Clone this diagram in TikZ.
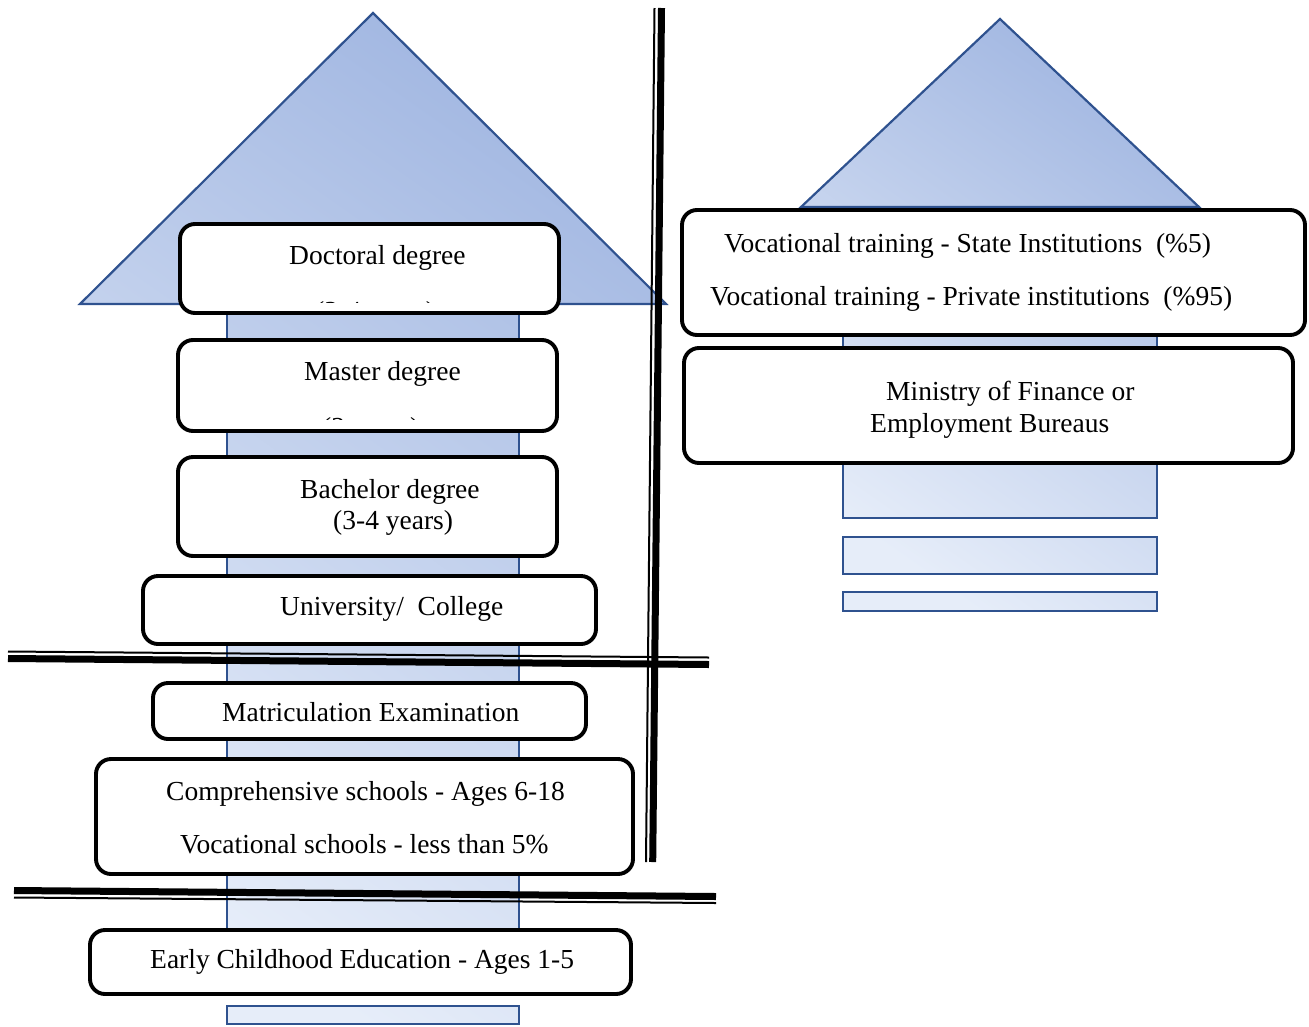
\documentclass[tikz,border=0pt]{standalone}
\usepackage{fontspec}
\setmainfont{Liberation Serif}
\definecolor{arrowdark}{HTML}{A3B8E2}
\definecolor{arrowlight}{HTML}{E6EDF9}
\definecolor{arrowblue}{HTML}{2F528F}
\tikzset{
  arrowfill/.style={top color=arrowdark, bottom color=arrowlight, shading angle=-35},
  arrowline/.style={draw=arrowblue, line width=2.2pt, line join=miter},
  stage/.style={draw=black, line width=3.9pt, rounded corners=15pt, fill=white,
                inner sep=0pt, outer sep=0pt},
  lbl/.style={anchor=base west, inner sep=0pt, font=\fontsize{27.5}{32}\selectfont},
  rulethin/.style={draw=black, line width=2pt},
  rulethick/.style={draw=black, line width=7pt}
}
\begin{document}
\begin{tikzpicture}[x=1pt, y=-1pt]
\useasboundingbox (0,0) rectangle (1309,1026);

% ---- left arrow: university path ----
\path[arrowfill]
  (80,304) -- (373,13) -- (666,304) -- cycle
  (227,304) rectangle (519,990)
  (227,1006) rectangle (519,1024);
\draw[arrowline] (80,304) -- (373,13) -- (666,304) -- cycle;
\draw[arrowline] (227,304) rectangle (519,990);
\draw[arrowline] (227,1006) rectangle (519,1024);

% ---- right arrow: vocational path ----
\path[arrowfill]
  (801,207) -- (1000,19) -- (1199,207) -- cycle
  (843,207) rectangle (1157,518)
  (843,537) rectangle (1157,574)
  (843,592) rectangle (1157,611);
\draw[arrowline] (801,207) -- (1000,19) -- (1199,207) -- cycle;
\draw[arrowline] (843,207) rectangle (1157,518);
\draw[arrowline] (843,537) rectangle (1157,574);
\draw[arrowline] (843,592) rectangle (1157,611);

% ---- separating double rules ----
\draw[rulethin]  (8,651.5) -- (709,657.5);
\draw[rulethick] (8,658.5) -- (709,664.5);
\draw[rulethick] (14,890.5) -- (716,896.5);
\draw[rulethin]  (14,897.5) -- (716,903);
\draw[rulethin]  (654.5,8) -- (646,862);
\draw[rulethick] (661.5,8) -- (652.7,862);

% ---- stages ----
\node[stage, minimum width=379pt, minimum height=89pt]  (doc) at (369.5,268.5) {};
\node[stage, minimum width=379pt, minimum height=91pt]  (mas) at (367.5,385.5) {};
\node[stage, minimum width=379pt, minimum height=99pt]  (bac) at (367.5,506.5) {};
\node[stage, minimum width=453pt, minimum height=68pt]  (uni) at (369.5,610) {};
\node[stage, minimum width=433pt, minimum height=56pt]  (mat) at (369.5,711) {};
\node[stage, minimum width=537pt, minimum height=115pt] (com) at (364.5,816.5) {};
\node[stage, minimum width=541pt, minimum height=64pt]  (ece) at (360.5,962) {};
\node[stage, minimum width=623pt, minimum height=125pt] (voc) at (993.5,272.5) {};
\node[stage, minimum width=609pt, minimum height=115pt] (min) at (988.5,405.5) {};

% ---- labels ----
\node[lbl] (docT) at (289,264) {Doctoral degree};
\begin{scope}
  \clip (182,226) rectangle (557,302);
  \node[lbl] (docY) at (315,320) {(3-4 years)};
\end{scope}
\node[lbl] (masT) at (304,380) {Master degree};
\begin{scope}
  \clip (182,342) rectangle (555,419);
  \node[lbl] (masY) at (322,436) {(2 years)};
\end{scope}
\node[lbl] (bacT) at (300,498) {Bachelor degree};
\node[lbl] (bacY) at (333,529) {(3-4 years)};
\node[lbl] (uniT) at (280,615) {University/\ \ College};
\node[lbl] (matT) at (222,721) {Matriculation Examination};
\node[lbl] (comA) at (166,800) {Comprehensive schools - Ages 6-18};
\node[lbl] (comB) at (180,853) {Vocational schools - less than 5\%};
\node[lbl] (eceT) at (150,968) {Early Childhood Education - Ages 1-5};
\node[lbl] (vocA) at (724,252) {Vocational training - State Institutions\ \ (\%5)};
\node[lbl] (vocB) at (710,305) {Vocational training - Private institutions\ \ (\%95)};
\node[lbl] (minA) at (886,400) {Ministry of Finance or};
\node[lbl] (minB) at (870,432) {Employment Bureaus};
\end{tikzpicture}
\end{document}
